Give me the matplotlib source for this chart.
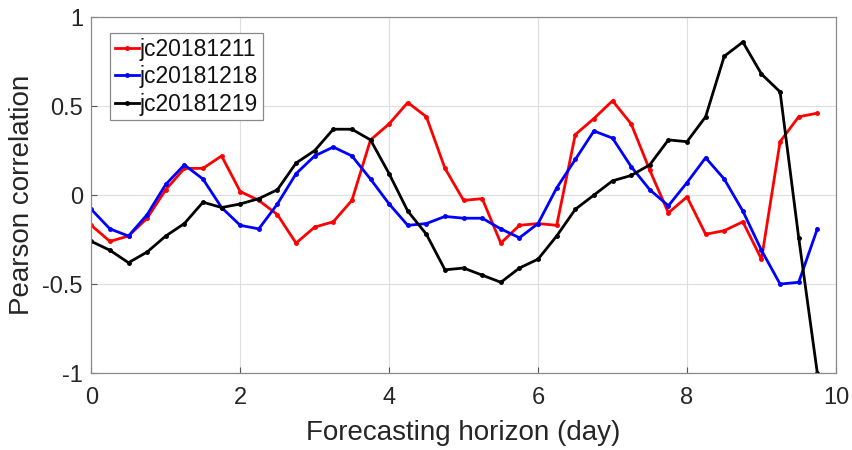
import matplotlib
matplotlib.use("Agg")
import matplotlib.pyplot as plt
import numpy as np

# forecasting horizon in days, one point every 6 hours
horizon = np.arange(0, 10, 0.25)

jc20181211 = [-0.17, -0.26, -0.23, -0.13, 0.03, 0.15, 0.15, 0.22, 0.02, -0.03,
              -0.11, -0.27, -0.18, -0.15, -0.03, 0.31, 0.40, 0.52, 0.44, 0.15,
              -0.03, -0.02, -0.27, -0.17, -0.16, -0.17, 0.34, 0.43, 0.53, 0.40,
              0.14, -0.10, -0.01, -0.22, -0.20, -0.15, -0.36, 0.30, 0.44, 0.46]
jc20181218 = [-0.08, -0.19, -0.23, -0.11, 0.06, 0.17, 0.09, -0.07, -0.17, -0.19,
              -0.05, 0.12, 0.22, 0.27, 0.22, 0.09, -0.05, -0.17, -0.16, -0.12,
              -0.13, -0.13, -0.19, -0.24, -0.16, 0.04, 0.20, 0.36, 0.32, 0.16,
              0.03, -0.06, 0.07, 0.21, 0.09, -0.09, -0.31, -0.50, -0.49, -0.19]
jc20181219 = [-0.26, -0.31, -0.38, -0.32, -0.23, -0.16, -0.04, -0.07, -0.05, -0.02,
              0.03, 0.18, 0.25, 0.37, 0.37, 0.31, 0.12, -0.09, -0.22, -0.42,
              -0.41, -0.45, -0.49, -0.41, -0.36, -0.23, -0.08, 0.00, 0.08, 0.11,
              0.17, 0.31, 0.30, 0.44, 0.78, 0.86, 0.68, 0.58, -0.24, -1.00]

series = [("jc20181211", jc20181211, "#ff0000"),
          ("jc20181218", jc20181218, "#0000ff"),
          ("jc20181219", jc20181219, "#000000")]

plt.rcParams['font.family'] = ['Liberation Sans', 'DejaVu Sans']

fig = plt.figure(figsize=(8.53, 4.5), dpi=100)
ax = fig.add_axes([0.107, 0.171, 0.873, 0.791])

for name, vals, color in series:
    ax.plot(horizon, vals, color=color, lw=2.0, marker='.', markersize=5, label=name)

ax.set_xlim(0, 10)
ax.set_ylim(-1, 1)
ax.set_xticks(np.arange(0, 11, 2))
ax.set_yticks([-1, -0.5, 0, 0.5, 1])
ax.set_yticklabels(['-1', '-0.5', '0', '0.5', '1'])
ax.grid(True, color='#dedede', lw=0.8)
ax.set_axisbelow(True)

for sp in ax.spines.values():
    sp.set_color('#8a8a8a')
    sp.set_linewidth(0.9)
ax.tick_params(direction='in', length=4, color='#555555', labelsize=17,
               labelcolor='#262626')
ax.tick_params(axis='x', pad=10)
ax.tick_params(axis='y', pad=6)

ax.set_xlabel('Forecasting horizon (day)', fontsize=20, color='#262626', labelpad=8)
ax.set_ylabel('Pearson correlation', fontsize=20, color='#262626', labelpad=5)

leg = ax.legend(loc='upper left', bbox_to_anchor=(0.0255, 0.955), fontsize=16.5,
                handlelength=1.05, handletextpad=0.05, borderpad=0.2,
                labelspacing=0.2, fancybox=False, framealpha=1,
                edgecolor='#8a8a8a', borderaxespad=0)
leg.get_frame().set_linewidth(0.9)
for t in leg.get_texts():
    t.set_color('#111111')

fig.savefig('out.png', dpi=100)
